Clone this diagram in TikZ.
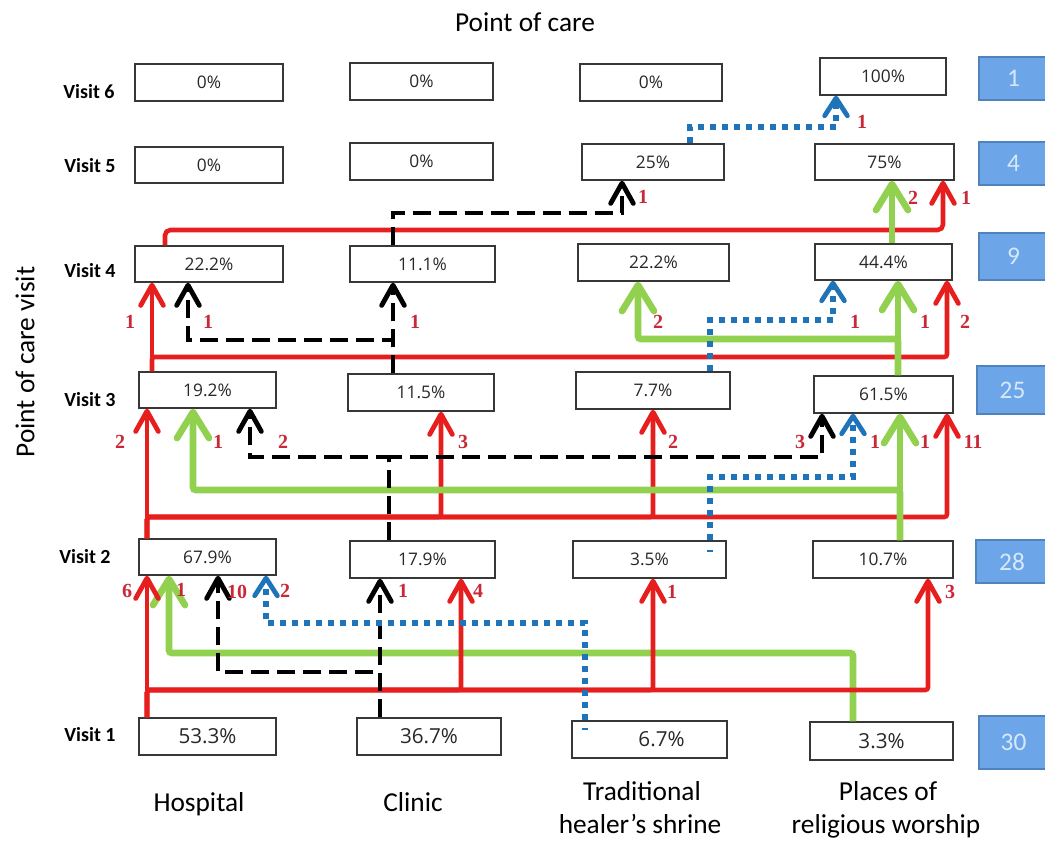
\documentclass[tikz,border=0pt]{standalone}
\usepackage{fontspec}
\setmainfont{Carlito}
\newfontfamily\valfont{Open Sans}
\newfontfamily\numfont{Liberation Serif}
\newfontfamily\bluefont{Carlito}
\usetikzlibrary{arrows.meta,calc}
\definecolor{cred}{RGB}{230,30,30}
\definecolor{cgreen}{RGB}{146,208,80}
\definecolor{cblue}{RGB}{31,115,185}
\definecolor{clab}{RGB}{200,40,55}
\definecolor{bfill}{RGB}{108,166,232}
\definecolor{bdraw}{RGB}{80,130,190}
\definecolor{btext}{RGB}{215,232,250}
\definecolor{cbox}{RGB}{55,55,55}
\definecolor{ctext}{RGB}{40,40,40}
% chevron arrow tips: name, length, half width, line width
\newcommand\mkchev[4]{%
\pgfdeclarearrow{
  name = #1,
  setup code = {\pgfarrowssettipend{0pt}\pgfarrowssetlineend{-#4}\pgfarrowssetbackend{-#2}},
  drawing code = {\pgfsetdash{}{0pt}\pgfsetlinewidth{#4}\pgfsetroundcap\pgfsetroundjoin
    \pgfpathmoveto{\pgfpoint{-#2}{#3}}%
    \pgfpathlineto{\pgfpoint{-0.5*#4}{0pt}}%
    \pgfpathlineto{\pgfpoint{-#2}{-#3}}%
    \pgfusepathqstroke}
}}
\mkchev{ChevR}{17pt}{8.5pt}{3.6pt}
\mkchev{ChevG}{22pt}{12pt}{5pt}
\mkchev{ChevK}{17pt}{8.5pt}{3.6pt}
\mkchev{ChevB}{15pt}{8.5pt}{3.6pt}
\newcommand\pbox[6]{\node[valbox, minimum width={(#4-#2)*0.75pt}, minimum height={(#5-#3)*0.75pt}] (#1) at ({(#2+#4)/2},{(#3+#5)/2}) {#6};}
\newcommand\qbox[6]{\node[bluebox, minimum width={(#4-#2)*0.75pt}, minimum height={(#5-#3)*0.75pt}] (#1) at ({(#2+#4)/2},{(#3+#5)/2}) {#6};}
\begin{document}
\begin{tikzpicture}[x=0.75pt,y=-0.75pt,
  valbox/.style={draw=cbox, line width=1.1pt, fill=white, inner sep=0pt, text=ctext, font=\valfont\fontsize{13}{15}\selectfont},
  bluebox/.style={draw=bdraw, line width=1pt, fill=bfill, inner sep=0pt, text=btext, font=\bluefont\fontsize{19}{21}\selectfont},
  redln/.style={draw=cred, line width=3.4pt, rounded corners=2pt, -{ChevR}},
  grnln/.style={draw=cgreen, line width=4.9pt, rounded corners=2pt, -{ChevG}},
  blkln/.style={draw=black, line width=3.4pt, dash pattern=on 13.5pt off 6pt, -{ChevK}},
  bluln/.style={draw=cblue, line width=4pt, dash pattern=on 4.5pt off 4.5pt, -{ChevB}},
  lab/.style={text=clab, inner sep=0pt, font=\numfont\bfseries\fontsize{15}{17}\selectfont},
  vlab/.style={inner sep=0pt, font=\bfseries\fontsize{15}{17}\selectfont},
  big/.style={inner sep=0pt, font=\fontsize{20.5}{23}\selectfont}
]
\useasboundingbox (0,0) rectangle (1045,842);

% titles
\node[big] (title) at (525,22) {Point of care};
\node[big, rotate=90] (ytitle) at (25,362) {Point of care visit};
\node[big, anchor=base] (hosp) at (199,811) {Hospital};
\node[big, anchor=base] (clin) at (413,811) {Clinic};
\node[big, anchor=base] (trad1) at (642,800) {Traditional};
\node[big, anchor=base] (trad2) at (640,833) {healer’s shrine};
\node[big, anchor=base] (wor1) at (888,800) {Places of};
\node[big, anchor=base] (wor2) at (886,833) {religious worship};

% visit labels
\node[vlab] (v6) at (89,92) {Visit 6};
\node[vlab] (v5) at (90,166) {Visit 5};
\node[vlab] (v4) at (90,271) {Visit 4};
\node[vlab] (v3) at (90,400) {Visit 3};
\node[vlab] (v2) at (85,557) {Visit 2};
\node[vlab] (v1) at (90,735) {Visit 1};

% boxes
\pbox{h6}{135}{64}{283}{101}{0\%}
\pbox{h5}{135}{147}{283}{183}{0\%}
\pbox{h4}{135}{246}{283}{282}{22.2\%}
\pbox{h3}{139}{372}{276}{408}{19.2\%}
\pbox{h2}{139}{539}{276}{575}{67.9\%}
\pbox{h1}{139}{718}{276}{755}{\fontsize{15.5}{17}\selectfont 53.3\%}
\pbox{c6}{350}{63}{493}{100}{0\%}
\pbox{c5}{350}{143}{493}{180}{0\%}
\pbox{c4}{350}{246}{495}{282}{11.1\%}
\pbox{c3}{348}{374}{494}{411}{11.5\%}
\pbox{c2}{350}{541}{495}{578}{17.9\%}
\pbox{c1}{357}{718}{501}{755}{\fontsize{15.5}{17}\selectfont 36.7\%}
\pbox{t6}{580}{64}{722}{101}{0\%}
\pbox{t5}{582}{144}{724}{180}{25\%}
\pbox{t4}{578}{244}{729}{281}{22.2\%}
\pbox{t3}{576}{372}{730}{409}{7.7\%}
\pbox{t2}{573}{541}{726}{578}{3.5\%}
\pbox{t1}{572}{721}{727}{758}{\fontsize{15.5}{17}\selectfont\hspace*{18pt}6.7\%}
\pbox{w6}{820}{58}{946}{95}{100\%}
\pbox{w5}{815}{144}{954}{180}{75\%}
\pbox{w4}{815}{244}{952}{280}{44.4\%}
\pbox{w3}{814}{376}{953}{413}{61.5\%}
\pbox{w2}{813}{541}{953}{578}{10.7\%}
\pbox{w1}{810}{722}{953}{760}{\fontsize{15.5}{17}\selectfont 3.3\%}
\qbox{b6}{979}{57}{1048}{100}{1}
\qbox{b5}{979}{142}{1048}{185}{4}
\qbox{b4}{979}{233}{1048}{280}{9}
\qbox{b3}{977}{366}{1048}{414}{25}
\qbox{b2}{976}{540}{1048}{583}{28}
\qbox{b1}{979}{716}{1048}{769}{30}

% layer 1 -> 2
\draw[grnln] (853,0 |- w1.north) |- (169,653) -- (169,0 |- h2.south);
\draw[redln] (147,0 |- h1.north) -- (147,0 |- h2.south);
\draw[redln] (147,0 |- h1.north) |- (461,690) -- (461,0 |- c2.south);
\draw[redln] (147,0 |- h1.north) |- (653,690) -- (653,0 |- t2.south);
\draw[redln] (147,0 |- h1.north) |- (928,690) -- (928,0 |- w2.south);
\draw[blkln] (380,0 |- c1.north) -- (380,0 |- c2.south);
\draw[blkln] (380,0 |- c1.north) |- (218,672) -- (218,0 |- h2.south);
\draw[bluln] (585,0 |- t1.north) |- (266,623) -- (266,0 |- h2.south);

% layer 2 -> 3
\draw[redln] (147,0 |- h2.north) -- (147,0 |- h3.south);
\draw[redln] (147,0 |- h2.north) |- (441,517) -- (441,0 |- c3.south);
\draw[redln] (147,0 |- h2.north) |- (653,517) -- (653,0 |- t3.south);
\draw[redln] (147,0 |- h2.north) |- (947,517) -- (947,0 |- w3.south);
\draw[grnln] (900,0 |- w2.north) -- (900,0 |- w3.south);
\draw[grnln] (900,0 |- w2.north) |- (193,490) -- (193,0 |- h3.south);
\draw[blkln] (389,0 |- c2.north) |- (250,457) -- (250,0 |- h3.south);
\draw[blkln] (389,0 |- c2.north) |- (822,457) -- (822,0 |- w3.south);
\draw[bluln] (710,0 |- t2.north) |- (853,477) -- (853,0 |- w3.south);

% layer 3 -> 4
\draw[redln] (152,0 |- h3.north) -- (152,0 |- h4.south);
\draw[redln] (152,0 |- h3.north) |- (947,357) -- (947,0 |- w4.south);
\draw[grnln] (898,0 |- w3.north) -- (898,0 |- w4.south);
\draw[grnln] (898,0 |- w3.north) |- (638,339) -- (638,0 |- t4.south);
\draw[blkln] (393,0 |- c3.north) -- (393,0 |- c4.south);
\draw[blkln] (393,0 |- c3.north) |- (188,340) -- (188,0 |- h4.south);
\draw[bluln] (710,0 |- t3.north) |- (833,320) -- (833,0 |- w4.south);

% layer 4 -> 5
\draw[redln, rounded corners=4pt] (165,0 |- h4.north) |- (943,230) -- (943,0 |- w5.south);
\draw[grnln] (892,0 |- w4.north) -- (892,0 |- w5.south);
\draw[blkln] (393,0 |- c4.north) |- (622,213) -- (622,0 |- t5.south);

% layer 5 -> 6
\draw[bluln] (690,0 |- t5.north) |- (836,127) -- (836,0 |- w6.south);

% small blue marks inside boxes
\draw[cblue, line width=1.5pt] (707,551) -- (713,551);
\draw[cblue, line width=1.5pt] (582,729) -- (588,729);

% counts
\foreach \x/\y/\t [count=\i] in {
  127/591/6, 181/590/1, 237/592/10, 285/591/2, 403/591/1, 478/591/4, 672/592/1, 950/592/3,
  120/442/2, 218/442/1, 283/442/2, 463/442/3, 673/442/2, 800/442/3, 875/442/1, 925/442/1, 973/442/11,
  130/322/1, 208/322/1, 415/322/1, 658/322/2, 855/322/1, 925/322/1, 965/322/2,
  643/197/1, 913/198/2, 966/198/1, 862/122/1}
  \node[lab] (n\i) at (\x,\y) {\t};
\end{tikzpicture}
\end{document}
